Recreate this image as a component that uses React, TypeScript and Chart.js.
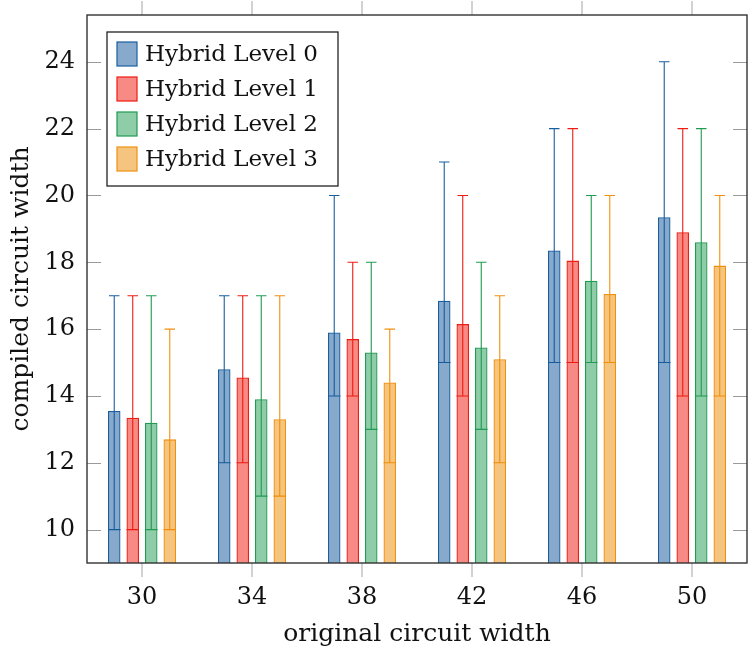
import React, { useEffect, useRef } from 'react';
import { Chart, registerables } from 'chart.js';

Chart.register(...registerables);

const widths = ['30', '34', '38', '42', '46', '50'];
const levelNames = ['Hybrid Level 0', 'Hybrid Level 1', 'Hybrid Level 2', 'Hybrid Level 3'];

const level0Mean = [13.55, 14.8, 15.9, 16.85, 18.35, 19.35];
const level0Min = [10, 12, 14, 15, 15, 15];
const level0Max = [17, 17, 20, 21, 22, 24];

const level1Mean = [13.35, 14.55, 15.7, 16.15, 18.05, 18.9];
const level1Min = [10, 12, 14, 14, 15, 14];
const level1Max = [17, 17, 18, 20, 22, 22];

const level2Mean = [13.2, 13.9, 15.3, 15.45, 17.45, 18.6];
const level2Min = [10, 11, 13, 13, 15, 14];
const level2Max = [17, 17, 18, 18, 20, 22];

const level3Mean = [12.7, 13.3, 14.4, 15.1, 17.05, 17.9];
const level3Min = [10, 11, 12, 12, 15, 14];
const level3Max = [16, 17, 16, 17, 20, 20];

const yTicks = [10, 12, 14, 16, 18, 20, 22, 24];

const means = [level0Mean, level1Mean, level2Mean, level3Mean];
const mins = [level0Min, level1Min, level2Min, level3Min];
const maxs = [level0Max, level1Max, level2Max, level3Max];

const edgeColors = ['#1a5e9e', '#ee1c12', '#219a52', '#ef9010'];
const fillColors = [
  'rgba(16, 86, 154, 0.5)',
  'rgba(240, 22, 10, 0.5)',
  'rgba(30, 156, 82, 0.5)',
  'rgba(236, 140, 0, 0.5)',
];

const FONT = "'DejaVu Serif', serif";
const TICK_SIZE = 24;
const TITLE_SIZE = 25;
const LEGEND_SIZE = 23;

const decor = {
  id: 'decor',
  beforeDatasetsDraw(chart: any) {
    const { ctx, scales } = chart;
    const y = scales.y;
    ctx.save();
    ctx.lineWidth = 1.1;
    means.forEach((_, i) => {
      const meta = chart.getDatasetMeta(i);
      ctx.strokeStyle = edgeColors[i];
      meta.data.forEach((bar: any, j: number) => {
        const x = bar.x;
        const lo = y.getPixelForValue(mins[i][j]);
        const hi = y.getPixelForValue(maxs[i][j]);
        const cap = bar.width * 0.42;
        ctx.beginPath();
        ctx.moveTo(x, lo);
        ctx.lineTo(x, hi);
        ctx.moveTo(x - cap, hi);
        ctx.lineTo(x + cap, hi);
        ctx.moveTo(x - bar.width / 2, lo);
        ctx.lineTo(x + bar.width / 2, lo);
        ctx.stroke();
      });
    });
    ctx.restore();
  },
  afterDatasetsDraw(chart: any) {
    const { ctx, chartArea, scales } = chart;
    const { left, right, top, bottom } = chartArea;
    ctx.save();

    // y ticks, inside on both sides
    ctx.strokeStyle = '#9a9a9a';
    ctx.lineWidth = 1;
    yTicks.forEach((v) => {
      const py = Math.round(scales.y.getPixelForValue(v)) + 0.5;
      ctx.beginPath();
      ctx.moveTo(left, py);
      ctx.lineTo(left + 14, py);
      ctx.moveTo(right - 14, py);
      ctx.lineTo(right, py);
      ctx.stroke();
    });

    // x ticks, outside top and bottom
    ctx.strokeStyle = '#c4c4c4';
    ctx.lineWidth = 1.5;
    widths.forEach((_, j) => {
      const px = scales.x.getPixelForValue(j);
      ctx.beginPath();
      ctx.moveTo(px, top - 14);
      ctx.lineTo(px, top);
      ctx.moveTo(px, bottom);
      ctx.lineTo(px, bottom + 14);
      ctx.stroke();
    });

    // frame
    ctx.strokeStyle = '#333333';
    ctx.lineWidth = 1.4;
    ctx.strokeRect(left, top, right - left, bottom - top);

    // legend
    const lx = left + 20;
    const ly = top + 17;
    const lw = 231;
    const lh = 154;
    ctx.fillStyle = '#ffffff';
    ctx.fillRect(lx, ly, lw, lh);
    ctx.strokeStyle = '#222222';
    ctx.lineWidth = 1.3;
    ctx.strokeRect(lx, ly, lw, lh);
    ctx.font = `${LEGEND_SIZE}px ${FONT}`;
    ctx.textBaseline = 'middle';
    ctx.textAlign = 'left';
    levelNames.forEach((name, i) => {
      const sy = ly + 10 + i * 35;
      ctx.fillStyle = fillColors[i];
      ctx.fillRect(lx + 10, sy, 20, 24);
      ctx.strokeStyle = edgeColors[i];
      ctx.lineWidth = 1.2;
      ctx.strokeRect(lx + 10, sy, 20, 24);
      ctx.fillStyle = '#111111';
      ctx.fillText(name, lx + 38, sy + 13);
    });

    ctx.restore();
  },
};

export default function App() {
  const canvasRef = useRef<HTMLCanvasElement>(null);

  useEffect(() => {
    document.body.style.margin = '0';
    if (!canvasRef.current) return;
    const chart = new Chart(canvasRef.current, {
      type: 'bar',
      data: {
        labels: widths,
        datasets: levelNames.map((name, i) => ({
          label: name,
          data: means[i],
          backgroundColor: fillColors[i],
          borderColor: edgeColors[i],
          borderWidth: 1.3,
          borderSkipped: false,
          barPercentage: 0.676,
          categoryPercentage: 0.673,
        })),
      },
      options: {
        animation: false,
        responsive: false,
        maintainAspectRatio: false,
        layout: { padding: { top: 15, right: 1, left: 0, bottom: 0 } },
        plugins: { legend: { display: false }, tooltip: { enabled: false } },
        scales: {
          x: {
            grid: { display: false, drawTicks: false },
            border: { display: false },
            ticks: { color: '#111', font: { family: FONT, size: TICK_SIZE }, padding: 20 },
            title: {
              display: true,
              text: 'original circuit width',
              color: '#111',
              font: { family: FONT, size: TITLE_SIZE },
              padding: { top: 0, bottom: 8 },
            },
            afterFit: (s: any) => {
              s.height = 94;
              s.paddingLeft = 0;
              s.paddingRight = 0;
            },
          },
          y: {
            min: 9,
            max: 25.4,
            afterBuildTicks: (s: any) => {
              s.ticks = yTicks.map((v) => ({ value: v }));
            },
            grid: { display: false, drawTicks: false },
            border: { display: false },
            ticks: { color: '#111', font: { family: FONT, size: TICK_SIZE }, padding: 12 },
            title: {
              display: true,
              text: 'compiled circuit width',
              color: '#111',
              font: { family: FONT, size: TITLE_SIZE },
              padding: { top: 6, bottom: 0 },
            },
            afterFit: (s: any) => {
              s.width = 87;
              s.paddingTop = 0;
              s.paddingBottom = 0;
            },
          },
        },
      },
      plugins: [decor],
    });
    return () => chart.destroy();
  }, []);

  return (
    <div style={{ width: 748, height: 657, background: '#fff' }}>
      <canvas ref={canvasRef} width={748} height={657} />
    </div>
  );
}
